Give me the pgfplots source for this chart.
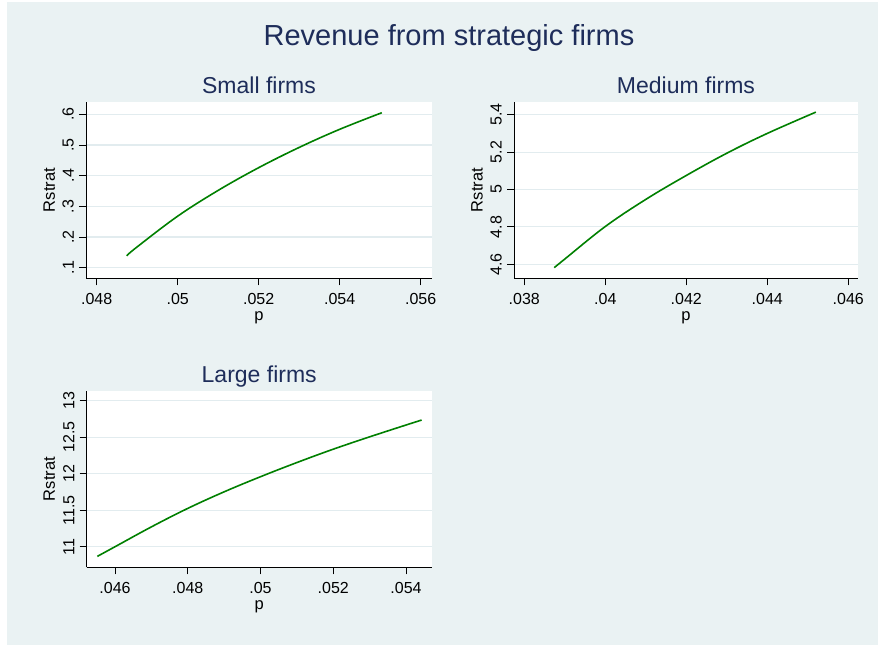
\documentclass[border=0pt]{standalone}
\usepackage{fontspec}
\setmainfont{Liberation Sans}
\usepackage{pgfplots}
\pgfplotsset{compat=1.18}
\definecolor{bgc}{RGB}{234,242,243}
\definecolor{gridc}{RGB}{226,236,239}
\definecolor{titlec}{RGB}{30,45,90}
\definecolor{linec}{RGB}{0,128,0}
\pgfplotsset{
  stpanel/.style={
    scale only axis,
    anchor=south west,
    /pgf/number format/assume math mode=true,
    axis x line*=bottom,
    axis y line*=left,
    axis line style={-, black, line width=0.9pt},
    every outer x axis line/.append style={-},
    every outer y axis line/.append style={-},
    every inner x axis line/.append style={-},
    every inner y axis line/.append style={-},
    axis background/.style={fill=white},
    ymajorgrids,
    major grid style={draw=gridc, line width=1.2pt},
    tick align=outside,
    major tick length=7pt,
    tick style={black, line width=0.8pt},
    minor tick num=0,
    ticklabel style={font=\fontsize{16}{19}\selectfont, inner sep=0pt},
    xticklabel style={anchor=north},
    xticklabel shift=8pt,
    yticklabel style={rotate=90, anchor=south},
    yticklabel shift=5pt,
    every axis title/.style={at={(axis description cs:0.5,1)}, anchor=base, yshift=8pt, font=\fontsize{23}{27}\selectfont, text=titlec},
    scaled ticks=false,
    clip=false,
  }
}
\begin{document}
\begin{tikzpicture}[x=1pt,y=1pt]
\useasboundingbox (0,0) rectangle (878,-645);
\fill[white] (0,0) rectangle (878,-645);
\fill[bgc] (7,-2) rectangle (878,-645);
\node[anchor=base, font=\fontsize{29}{34}\selectfont, text=titlec] at (449,-45) {Revenue from strategic firms};

% Small firms
\begin{axis}[stpanel,
  at={(86pt,-278.3pt)}, width=346pt, height=176.6pt,
  title={Small firms},
  xmin=0.047736, xmax=0.05628, ymin=0.0655, ymax=0.641,
  xtick={0.048,0.05,0.052,0.054,0.056},
  xticklabels={.048,.05,.052,.054,.056},
  ytick={0.1,0.2,0.3,0.4,0.5,0.6},
  yticklabels={.1,.2,.3,.4,.5,.6},
  xlabel={p}, ylabel={Rstrat},
  every axis x label/.style={at={(axis description cs:0.5,-0.237)}, anchor=base, font=\fontsize{16.5}{19}\selectfont},
  every axis y label/.style={at={(axis description cs:-0.0896,0.5)}, rotate=90, anchor=base, font=\fontsize{16.5}{19}\selectfont},
]
\addplot[linec, line width=1.6pt, smooth, tension=0.6, no markers] coordinates {
(0.04874,0.139) (0.049,0.168) (0.050,0.268) (0.051,0.352) (0.052,0.426)
(0.053,0.492) (0.054,0.551) (0.05504,0.605)
};
\end{axis}

% Medium firms
\begin{axis}[stpanel,
  at={(514pt,-278.3pt)}, width=344pt, height=176.6pt,
  title={Medium firms},
  xmin=0.037746, xmax=0.04624, ymin=4.525, ymax=5.4696,
  xtick={0.038,0.04,0.042,0.044,0.046},
  xticklabels={.038,.04,.042,.044,.046},
  ytick={4.6,4.8,5,5.2,5.4},
  yticklabels={4.6,4.8,5,5.2,5.4},
  xlabel={p}, ylabel={Rstrat},
  every axis x label/.style={at={(axis description cs:0.5,-0.237)}, anchor=base, font=\fontsize{16.5}{19}\selectfont},
  every axis y label/.style={at={(axis description cs:-0.091,0.5)}, rotate=90, anchor=base, font=\fontsize{16.5}{19}\selectfont},
]
\addplot[linec, line width=1.6pt, smooth, tension=0.6, no markers] coordinates {
(0.03874,4.582) (0.039,4.628) (0.040,4.802) (0.041,4.947) (0.042,5.075)
(0.043,5.194) (0.044,5.300) (0.0452,5.414)
};
\end{axis}

% Large firms
\begin{axis}[stpanel,
  at={(86.7pt,-567.3pt)}, width=345pt, height=176.6pt,
  title={Large firms},
  xmin=0.045221, xmax=0.054706, ymin=10.718, ymax=13.137,
  xtick={0.046,0.048,0.05,0.052,0.054},
  xticklabels={.046,.048,.05,.052,.054},
  ytick={11,11.5,12,12.5,13},
  yticklabels={11,11.5,12,12.5,13},
  xlabel={p}, ylabel={Rstrat},
  every axis x label/.style={at={(axis description cs:0.5,-0.237)}, anchor=base, font=\fontsize{16.5}{19}\selectfont},
  every axis y label/.style={at={(axis description cs:-0.0919,0.5)}, rotate=90, anchor=base, font=\fontsize{16.5}{19}\selectfont},
]
\addplot[linec, line width=1.6pt, smooth, tension=0.6, no markers] coordinates {
(0.045514,10.868) (0.046,11.0) (0.047,11.272) (0.048,11.525) (0.049,11.752)
(0.050,11.959) (0.051,12.153) (0.052,12.336) (0.053,12.505) (0.054,12.667)
(0.05443,12.735)
};
\end{axis}
\end{tikzpicture}
\end{document}
